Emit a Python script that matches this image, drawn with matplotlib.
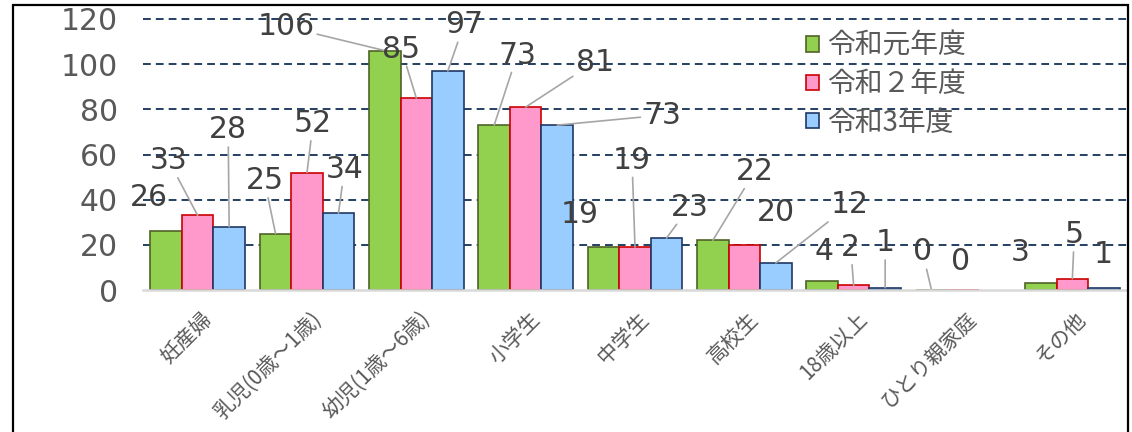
import numpy as np
import matplotlib
matplotlib.use('Agg')
from matplotlib import pyplot as plt
from matplotlib.patches import Rectangle
from matplotlib.transforms import ScaledTranslation

# data
categories = ['妊産婦', '乳児(0歳～1歳)', '幼児(1歳～6歳)', '小学生', '中学生',
              '高校生', '18歳以上', 'ひとり親家庭', 'その他']
series_names = ['令和元年度', '令和２年度', '令和3年度']
r1 = [26, 25, 106, 73, 19, 22, 4, 0, 3]
r2 = [33, 52, 85, 81, 19, 20, 2, 0, 5]
r3 = [28, 34, 97, 73, 23, 12, 1, np.nan, 1]
yticks = [0, 20, 40, 60, 80, 100, 120]

# styles
faces = ['#92D050', '#FF99CC', '#99CCFF']
edges = ['#4F6228', '#CC0000', '#1F3864']

# label layout: offset in pixels from bar top (dx, dy up), leader line or not
offsets = [
    [(-17, 31, 0), (-11, 50, 1), (-99, 21, 1), (23, 67, 1), (-24, 30, 0),
     (42, 66, 1), (2, 26, 0), (-9, 35, 1), (-21, 28, 0)],
    [(-29, 52, 1), (6, 46, 1), (-15, 46, 1), (69, 42, 1), (-3, 84, 1),
     (32, 29, 0), (-3, 35, 1), (-2, 26, 0), (2, 41, 1)],
    [(-1, 94, 1), (6, 41, 1), (16, 43, 1), (105, 7, 1), (23, 28, 1),
     (74, 55, 1), (0, 42, 1), (0, 0, 0), (-1, 30, 0)],
]

W, H = 1132, 432
fig = plt.figure(figsize=(W / 100, H / 100), dpi=100)
ax = fig.add_axes([143 / W, 142 / H, 984 / W, 271 / H])

x = np.arange(len(categories))
bw = 0.288
all_series = [r1, r2, r3]
for i, vals in enumerate(all_series):
    ax.bar(x + (i - 1) * bw, vals, bw, color=faces[i], edgecolor=edges[i],
           linewidth=1.2, label=series_names[i], zorder=3)
    for j, v in enumerate(vals):
        if np.isnan(v):
            continue
        dx, dy, lead = offsets[i][j]
        arrow = dict(arrowstyle='-', color='#A6A6A6', lw=1.2, shrinkA=0, shrinkB=0) if lead else None
        ax.annotate(str(int(v)), xy=(x[j] + (i - 1) * bw, v), xytext=(dx, dy + 3),
                    textcoords='offset pixels', ha='center', va='center',
                    fontsize=21.5, color='#404040', family='DejaVu Sans',
                    arrowprops=arrow, annotation_clip=False, zorder=4)

ax.set_xlim(-0.5, len(categories) - 0.5)
ax.set_ylim(0, 120)
ax.set_yticks(yticks)
ax.set_yticklabels([str(t) for t in yticks], fontsize=21.5, color='#595959',
                   family='DejaVu Sans')
ax.tick_params(axis='y', length=0, pad=18)
ax.tick_params(axis='x', length=0, pad=13)
for t in yticks[1:]:
    ax.axhline(t, color='#243F60', lw=1.4, ls=(0, (4, 2.6)), zorder=1, clip_on=False)
for s in ['top', 'right', 'left']:
    ax.spines[s].set_visible(False)
ax.spines['bottom'].set_color('#D9D9D9')
ax.spines['bottom'].set_linewidth(1.8)
ax.spines['bottom'].set_zorder(5)

ax.set_xticks(x)
ax.set_xticklabels(categories, rotation=45, ha='right', va='top',
                   rotation_mode='anchor', fontsize=15,
                   family=['Noto Sans CJK JP', 'DejaVu Sans'], color='#595959')
for lab in ax.get_xticklabels():
    lab.set_transform(lab.get_transform() + ScaledTranslation(3 / 100, 0, fig.dpi_scale_trans))

leg = ax.legend(loc='upper left', bbox_to_anchor=(806 / W, 1 - 31 / H),
                bbox_transform=fig.transFigure, frameon=False,
                prop={'family': ['Noto Sans CJK JP', 'DejaVu Sans'], 'size': 20},
                handlelength=0.47, handleheight=0.47, handletextpad=0.3,
                labelspacing=0.3, borderpad=0, borderaxespad=0)
for txt in leg.get_texts():
    txt.set_color('#595959')

fig.patches.append(Rectangle((13 / W, -0.1), (1128 - 13) / W, 1 - 5 / H + 0.1,
                             transform=fig.transFigure, fill=False,
                             edgecolor='black', lw=1.6))

fig.savefig('out.png', dpi=100, facecolor='white')
